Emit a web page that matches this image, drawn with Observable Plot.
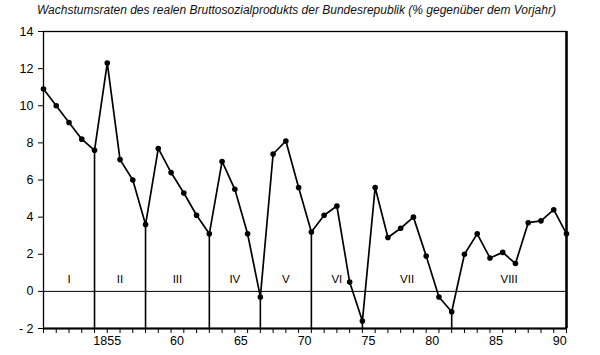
<!DOCTYPE html>
<html>
<head>
<meta charset="utf-8">
<script src="https://cdn.jsdelivr.net/npm/d3@7"></script>
<script src="https://cdn.jsdelivr.net/npm/@observablehq/plot@0.6"></script>
<style>
  html, body { margin: 0; padding: 0; background: #fff; }
  #title { height: 20px; line-height: 20px; padding-left: 37px; font-family: "Liberation Sans", Arial, sans-serif; font-style: italic; font-size: 12px; color: #111; white-space: nowrap; }
  svg { display: block; }
</style>
</head>
<body>
<div id="title">Wachstumsraten des realen Bruttosozialprodukts der Bundesrepublik (% gegenüber dem Vorjahr)</div>
<div id="chart"></div>
<script>
const years = d3.range(1950, 1992);
const growth = [10.9, 10.0, 9.1, 8.2, 7.6, 12.3, 7.1, 6.0, 3.6, 7.7,
                6.4, 5.3, 4.1, 3.1, 7.0, 5.5, 3.1, -0.3, 7.4, 8.1,
                5.6, 3.2, 4.1, 4.6, 0.5, -1.6, 5.6, 2.9, 3.4, 4.0,
                1.9, -0.3, -1.1, 2.0, 3.1, 1.8, 2.1, 1.5, 3.7, 3.8,
                4.4, 3.1];
const troughYears = [1954, 1958, 1963, 1967, 1971, 1975, 1982];
const cycleNames = ["I", "II", "III", "IV", "V", "VI", "VII", "VIII"];
const tickYears = [1955, 1960, 1965, 1970, 1975, 1980, 1985, 1990];
const tickLabels = ["1855", "60", "65", "70", "75", "80", "85", "90"];
const yTicks = [-2, 0, 2, 4, 6, 8, 10, 12, 14];

const data = years.map((year, i) => ({year, value: growth[i]}));
const valueOf = y => growth[years.indexOf(y)];
const bounds = [years[0], ...troughYears, years[years.length - 1]];
const cycles = cycleNames.map((name, i) => ({name, x: (bounds[i] + bounds[i + 1]) / 2}));
const tickData = tickYears.map((x, i) => ({x, label: tickLabels[i]}));

const font = "'Liberation Sans', Arial, sans-serif";

const chart = Plot.plot({
  width: 600,
  height: 335,
  marginTop: 11,
  marginBottom: 27,
  marginLeft: 43,
  marginRight: 34,
  style: {fontFamily: font, fontSize: "12px", color: "#000", background: "#fff"},
  x: {domain: [1950, 1991]},
  y: {domain: [-2, 14]},
  marks: [
    Plot.frame({stroke: "#000", strokeWidth: 1.3}),
    Plot.ruleY([-2], {stroke: "#000", strokeWidth: 2}),
    Plot.ruleY([0], {stroke: "#000", strokeWidth: 1}),
    Plot.ruleX([1991], {stroke: "#000", strokeWidth: 2.5}),
    Plot.ruleX(troughYears, {x: d => d, y1: -2, y2: d => valueOf(d), stroke: "#000", strokeWidth: 1.6}),
    Plot.axisY({ticks: yTicks, tickSize: 5, tickPadding: 5, tickFormat: d => d < 0 ? "- " + Math.abs(d) : String(d), fontSize: 12.5, label: null}),
    Plot.axisX({ticks: years, tickSize: 5, tickFormat: () => "", label: null}),
    Plot.text(tickData.slice(0, 1), {x: "x", text: "label", frameAnchor: "bottom", dy: 16, fontSize: 12.5}),
    Plot.text(tickData.slice(1), {x: "x", text: "label", frameAnchor: "bottom", dy: 16, dx: 6, fontSize: 12.5}),
    Plot.text(cycles, {x: "x", y: 0.65, text: "name", fontSize: 11.5}),
    Plot.line(data, {x: "year", y: "value", stroke: "#000", strokeWidth: 1.7}),
    Plot.dot(data, {x: "year", y: "value", r: 2.8, fill: "#000", stroke: "none"})
  ]
});
document.getElementById("chart").appendChild(chart);
</script>
</body>
</html>
